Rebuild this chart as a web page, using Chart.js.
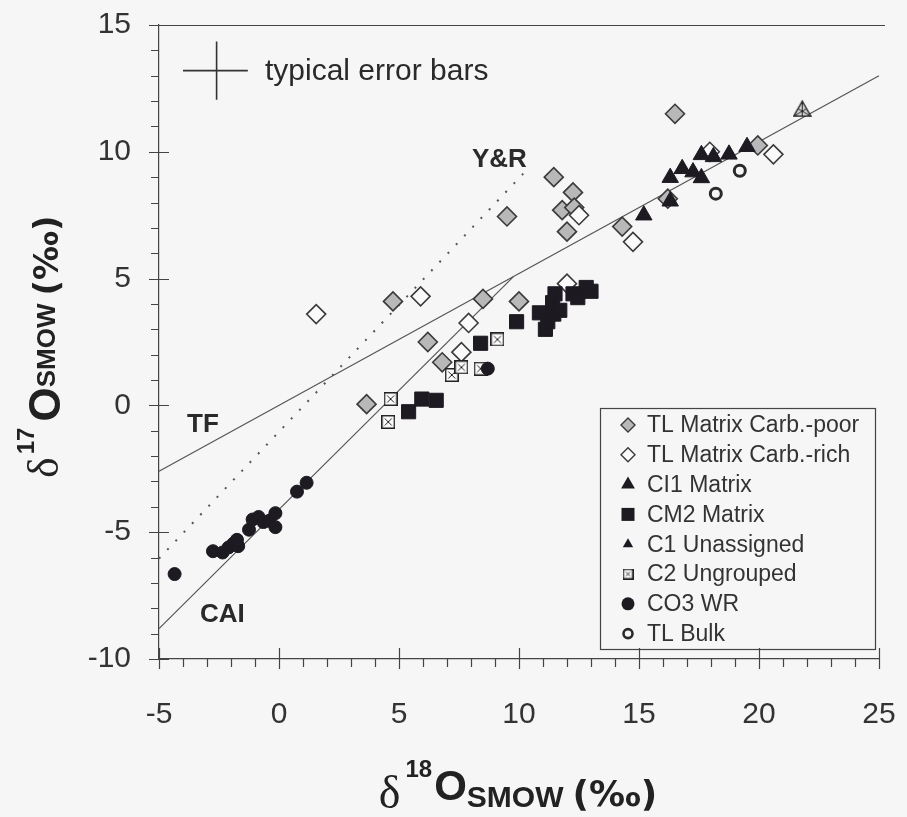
<!DOCTYPE html>
<html>
<head>
<meta charset="utf-8">
<script src="https://cdn.jsdelivr.net/npm/chart.js@4.4.0/dist/chart.umd.min.js"></script>
<style>
  html, body { margin: 0; padding: 0; background: #f6f6f6; }
  canvas { display: block; }
</style>
</head>
<body>
<canvas id="chart" width="907" height="817"></canvas>
<script>
// axis ranges / ticks
const xRange = [-5, 25];
const yRange = [-10, 15];
const tickStep = 5;

// TL Matrix Carb.-poor
const carbPoorX = [3.65, 4.75, 6.2, 6.8, 8.5, 9.5, 10.0, 11.45, 11.8, 12.25, 12.3, 12.0, 14.3, 16.2, 16.5, 19.95];
const carbPoorY = [0.05, 4.1, 2.5, 1.7, 4.2, 7.45, 4.1, 9.0, 7.7, 8.4, 7.8, 6.85, 7.05, 8.15, 11.5, 10.25];
// TL Matrix Carb.-rich
const carbRichX = [1.55, 5.9, 7.6, 7.9, 12.0, 12.5, 14.75, 17.95, 20.6];
const carbRichY = [3.6, 4.3, 2.1, 3.25, 4.8, 7.5, 6.45, 10.0, 9.9];
// CI1 Matrix
const ci1X = [15.2, 16.3, 16.3, 16.8, 17.25, 17.6, 17.6, 18.1, 18.75, 19.5];
const ci1Y = [7.5, 8.05, 8.98, 9.33, 9.2, 8.97, 9.88, 9.8, 9.9, 10.2];
// CM2 Matrix
const cm2X = [5.4, 5.95, 6.55, 8.4, 9.9, 10.85, 11.1, 11.2, 11.4, 11.45, 11.5, 11.7, 12.25, 12.45, 12.8, 13.0];
const cm2Y = [-0.25, 0.25, 0.2, 2.45, 3.3, 3.65, 3.0, 3.3, 4.05, 3.6, 4.4, 3.75, 4.4, 4.25, 4.65, 4.5];
// C1 Unassigned
const c1uX = [21.8];
const c1uY = [11.7];
// C2 Ungrouped
const c2X = [4.55, 4.65, 7.2, 7.6, 8.4, 9.1];
const c2Y = [-0.65, 0.25, 1.2, 1.5, 1.45, 2.6];
// CO3 WR
const co3X = [-4.35, -2.75, -2.35, -2.1, -1.9, -1.7, -1.75, -1.25, -1.1, -0.85, -0.65, -0.4, -0.15, -0.15, 0.75, 1.15, 8.7];
const co3Y = [-6.65, -5.75, -5.8, -5.6, -5.45, -5.55, -5.3, -4.9, -4.5, -4.4, -4.6, -4.55, -4.25, -4.8, -3.4, -3.05, 1.45];
// TL Bulk
const bulkX = [18.2, 19.2];
const bulkY = [8.35, 9.25];

// reference lines
const tfX = [-5, 25];
const tfY = [-2.6, 13.0];
const caiX = [-5, 9.76];
const caiY = [-8.8, 5.07];
const yrX = [-5, 10.3];
const yrY = [-6.04, 9.26];
// typical error bars cross
const errHX = [-4.0, -1.3];
const errHY = [13.2, 13.2];
const errVX = [-2.6, -2.6];
const errVY = [14.35, 12.05];

const legendLabels = ['TL Matrix Carb.-poor', 'TL Matrix Carb.-rich', 'CI1 Matrix', 'CM2 Matrix',
  'C1 Unassigned', 'C2 Ungrouped', 'CO3 WR', 'TL Bulk'];

const BG = '#f6f6f6';
const INK = '#1e1a22';
const SANS = '"Liberation Sans", Arial, sans-serif';

function pts(xs, ys) {
  return xs.map((x, i) => ({ x: x, y: ys[i] }));
}

// box with an X inside (C2 Ungrouped)
function boxCross(size) {
  const c = document.createElement('canvas');
  c.width = size; c.height = size;
  const g = c.getContext('2d');
  g.fillStyle = '#fcfcfc';
  g.fillRect(0, 0, size, size);
  g.strokeStyle = '#222';
  g.lineWidth = 1.5;
  g.strokeRect(0.75, 0.75, size - 1.5, size - 1.5);
  g.lineWidth = 1;
  g.beginPath();
  g.moveTo(3.5, 3.5); g.lineTo(size - 3.5, size - 3.5);
  g.moveTo(size - 3.5, 3.5); g.lineTo(3.5, size - 3.5);
  g.stroke();
  return c;
}

// hatched triangle (C1 Unassigned)
function hatchTri(w, h) {
  const c = document.createElement('canvas');
  c.width = w; c.height = h;
  const g = c.getContext('2d');
  const a = [w / 2, 1], b = [1, h - 1], d = [w - 1, h - 1];
  g.fillStyle = '#d8d8d8';
  g.strokeStyle = '#222';
  g.lineWidth = 1.4;
  g.beginPath();
  g.moveTo(a[0], a[1]); g.lineTo(b[0], b[1]); g.lineTo(d[0], d[1]); g.closePath();
  g.fill(); g.stroke();
  g.lineWidth = 1;
  g.beginPath();
  g.moveTo(a[0], a[1]); g.lineTo((b[0] + d[0]) / 2, h - 1);
  g.moveTo(b[0], b[1]); g.lineTo((a[0] + d[0]) / 2, (a[1] + d[1]) / 2);
  g.moveTo(d[0], d[1]); g.lineTo((a[0] + b[0]) / 2, (a[1] + b[1]) / 2);
  g.stroke();
  return c;
}

const c2Img = boxCross(14);
const c2ImgSmall = boxCross(11);
const c1uImg = hatchTri(19, 17);

function lineSet(xs, ys, dash, width) {
  return {
    type: 'line', data: pts(xs, ys), showLine: true, pointRadius: 0,
    borderColor: '#555', borderWidth: width || 1.2, borderDash: dash || [],
    fill: false, order: 10, clip: false
  };
}

const datasets = [
  { label: legendLabels[4], data: pts(c1uX, c1uY), pointStyle: c1uImg, order: 0 },
  { label: legendLabels[7], data: pts(bulkX, bulkY), pointStyle: 'circle', pointRadius: 5.5,
    backgroundColor: BG, borderColor: '#2a2a2a', borderWidth: 3, order: 1 },
  { label: legendLabels[2], data: pts(ci1X, ci1Y), pointStyle: 'triangle', pointRadius: 9.5,
    backgroundColor: INK, borderColor: INK, borderWidth: 1, order: 2 },
  { label: legendLabels[6], data: pts(co3X, co3Y), pointStyle: 'circle', pointRadius: 6.5,
    backgroundColor: INK, borderColor: INK, borderWidth: 1, order: 3 },
  { label: legendLabels[5], data: pts(c2X, c2Y), pointStyle: c2Img, order: 4 },
  { label: legendLabels[3], data: pts(cm2X, cm2Y), pointStyle: 'rect', pointRadius: 10,
    backgroundColor: INK, borderColor: INK, borderWidth: 1, order: 5 },
  { label: legendLabels[1], data: pts(carbRichX, carbRichY), pointStyle: 'rectRot', pointRadius: 9.5,
    backgroundColor: '#fafafa', borderColor: '#3a3a3a', borderWidth: 1.6, order: 6 },
  { label: legendLabels[0], data: pts(carbPoorX, carbPoorY), pointStyle: 'rectRot', pointRadius: 9.5,
    backgroundColor: '#b8b8b8', borderColor: '#3a3a3a', borderWidth: 1.6, order: 7 },
  lineSet(tfX, tfY),
  lineSet(caiX, caiY),
  lineSet(yrX, yrY, [2, 10], 2),
  Object.assign(lineSet(errHX, errHY, [], 1.6), { borderColor: '#333' }),
  Object.assign(lineSet(errVX, errVY, [], 1.6), { borderColor: '#333' })
];

// draw a run of text pieces with different fonts / baseline shifts
function richText(ctx, parts, x, y, center) {
  let total = 0;
  parts.forEach(p => {
    ctx.font = p.font;
    p.w = ctx.measureText(p.t).width * (p.sx || 1);
    total += p.w + (p.gap || 0);
  });
  let cx = center ? x - total / 2 : x;
  parts.forEach(p => {
    ctx.save();
    ctx.font = p.font;
    ctx.translate(cx, y + (p.dy || 0));
    ctx.scale(p.sx || 1, 1);
    ctx.fillText(p.t, 0, 0);
    ctx.restore();
    cx += p.w + (p.gap || 0);
  });
}

function legendMarker(ctx, i, x, y) {
  ctx.save();
  ctx.lineWidth = 1.4;
  ctx.strokeStyle = '#3a3a3a';
  ctx.beginPath();
  if (i === 0 || i === 1) {
    const r = 7;
    ctx.moveTo(x, y - r); ctx.lineTo(x + r, y); ctx.lineTo(x, y + r); ctx.lineTo(x - r, y); ctx.closePath();
    ctx.fillStyle = i === 0 ? '#b8b8b8' : '#fafafa';
    ctx.fill(); ctx.stroke();
  } else if (i === 2 || i === 4) {
    const r = i === 2 ? 8 : 6;
    ctx.moveTo(x, y - r); ctx.lineTo(x + r * 0.866, y + r / 2); ctx.lineTo(x - r * 0.866, y + r / 2); ctx.closePath();
    ctx.fillStyle = INK; ctx.fill();
  } else if (i === 3) {
    ctx.fillStyle = INK; ctx.fillRect(x - 6.5, y - 6.5, 13, 13);
  } else if (i === 5) {
    ctx.drawImage(c2ImgSmall, x - 5.5, y - 5.5);
  } else if (i === 6) {
    ctx.fillStyle = INK; ctx.arc(x, y, 6.5, 0, Math.PI * 2); ctx.fill();
  } else {
    ctx.lineWidth = 2.6; ctx.strokeStyle = '#2a2a2a';
    ctx.arc(x, y, 4.5, 0, Math.PI * 2); ctx.stroke();
  }
  ctx.restore();
}

const decor = {
  id: 'decor',
  beforeDraw(chart) {
    const ctx = chart.ctx;
    ctx.save();
    ctx.fillStyle = BG;
    ctx.fillRect(0, 0, chart.width, chart.height);
    ctx.restore();
  },
  afterDraw(chart) {
    const ctx = chart.ctx;
    const xs = chart.scales.x, ys = chart.scales.y;
    const area = chart.chartArea;
    ctx.save();
    // tick marks, minor every 1, major every 5
    ctx.strokeStyle = '#444';
    ctx.lineWidth = 1.2;
    ctx.beginPath();
    for (let v = xRange[0]; v <= xRange[1]; v++) {
      const px = Math.round(xs.getPixelForValue(v)) + 0.5;
      const major = v % tickStep === 0;
      ctx.moveTo(px, area.bottom + (major ? -11 : 0));
      ctx.lineTo(px, area.bottom + (major ? 10 : 8));
    }
    for (let v = yRange[0]; v <= yRange[1]; v++) {
      const py = Math.round(ys.getPixelForValue(v)) + 0.5;
      const major = v % tickStep === 0;
      ctx.moveTo(area.left - (major ? 10 : 8), py);
      ctx.lineTo(area.left + (major ? 10 : 0), py);
    }
    // top frame line
    ctx.moveTo(area.left, area.top + 0.5);
    ctx.lineTo(area.right + 6, area.top + 0.5);
    ctx.stroke();

    // annotations
    ctx.fillStyle = '#2a2a2a';
    ctx.textBaseline = 'alphabetic';
    ctx.font = '30px ' + SANS;
    ctx.fillText('typical error bars', 265, 80);
    ctx.font = 'bold 26px ' + SANS;
    ctx.fillText('TF', 187, 432);
    ctx.fillText('CAI', 200, 622);
    ctx.fillText('Y&R', 472, 167);

    // legend
    const lx = 600, ly = 408, lw = 275, lh = 241;
    ctx.lineWidth = 1.2;
    ctx.strokeStyle = '#444';
    ctx.strokeRect(lx + 0.5, ly + 0.5, lw, lh);
    ctx.font = '23px ' + SANS;
    ctx.fillStyle = '#333';
    ctx.textBaseline = 'middle';
    legendLabels.forEach((t, i) => {
      const y = ly + 17 + i * 29.8;
      legendMarker(ctx, i, lx + 28, y);
      ctx.fillText(t, lx + 47, y + 1);
    });

    // axis titles
    ctx.textBaseline = 'alphabetic';
    ctx.fillStyle = '#222';
    richText(ctx, [
      { t: 'δ', font: '46px "Liberation Serif", serif', dy: 8, gap: 5 },
      { t: '18', font: 'bold 24px ' + SANS, dy: -23, gap: 2 },
      { t: 'O', font: 'bold 42px ' + SANS },
      { t: 'SMOW', font: 'bold 30px ' + SANS, dy: 7, gap: 9 },
      { t: '(‰)', font: 'bold 36px "DejaVu Sans", sans-serif', dy: 6 }
    ], 518, 800, true);

    ctx.save();
    ctx.translate(58, 478);
    ctx.rotate(-Math.PI / 2);
    richText(ctx, [
      { t: 'δ', font: '44px "Liberation Serif", serif', dy: 0, gap: 3 },
      { t: '17', font: 'bold 24px ' + SANS, dy: -24, gap: 6 },
      { t: 'O', font: 'bold 44px ' + SANS, dy: 2 },
      { t: 'SMOW', font: 'bold 26px ' + SANS, dy: -3, gap: 8 },
      { t: '(‰)', font: 'bold 34px "DejaVu Sans", sans-serif', dy: 0 }
    ], 0, 0, false);
    ctx.restore();
    ctx.restore();
  }
};

new Chart(document.getElementById('chart'), {
  type: 'scatter',
  data: { datasets: datasets },
  options: {
    responsive: false,
    animation: false,
    layout: { padding: { left: 0, top: 25, right: 28, bottom: 0 } },
    plugins: { legend: { display: false }, tooltip: { enabled: false } },
    scales: {
      x: {
        type: 'linear', min: xRange[0], max: xRange[1],
        ticks: { stepSize: tickStep, autoSkip: false, maxRotation: 0, padding: 38,
          color: '#333', font: { family: SANS, size: 30 } },
        grid: { display: false, drawTicks: false },
        border: { display: true, color: '#444', width: 1.2 },
        afterFit: s => { s.height = 817 - 659; s.paddingLeft = 0; s.paddingRight = 0; }
      },
      y: {
        type: 'linear', min: yRange[0], max: yRange[1],
        ticks: { stepSize: tickStep, autoSkip: false, padding: 28,
          color: '#333', font: { family: SANS, size: 30 } },
        grid: { display: false, drawTicks: false },
        border: { display: true, color: '#444', width: 1.2 },
        afterFit: s => { s.width = 159; s.paddingTop = 0; s.paddingBottom = 0; }
      }
    }
  },
  plugins: [decor]
});
</script>
</body>
</html>
